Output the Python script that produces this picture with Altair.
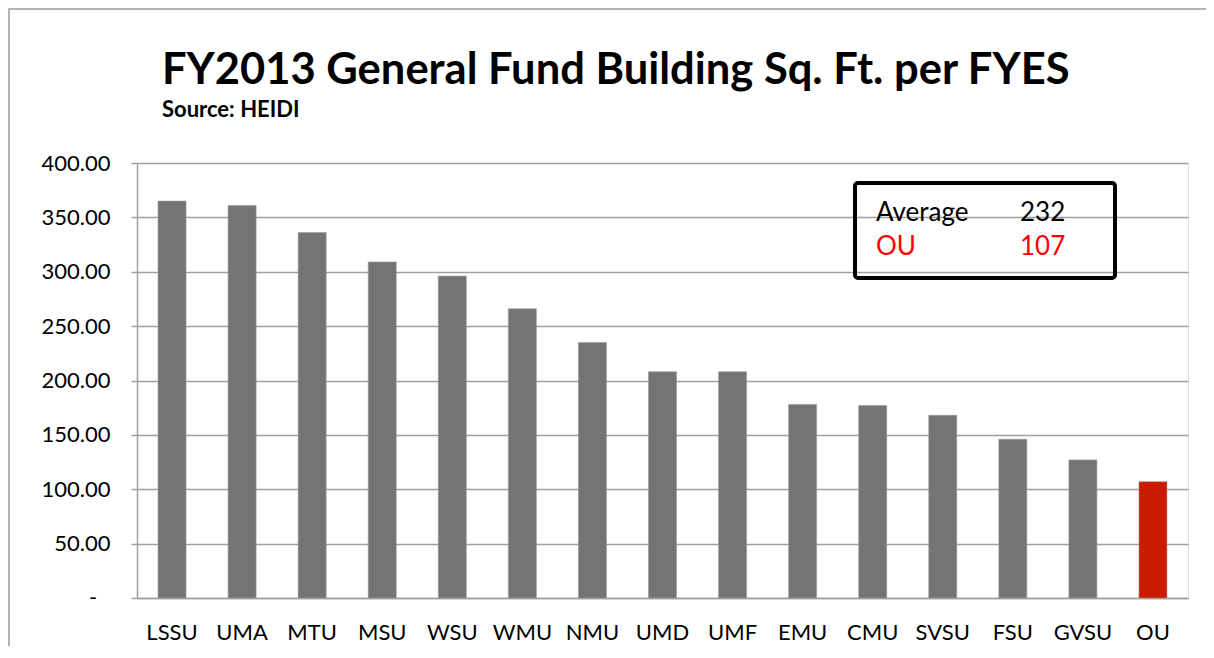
import altair as alt
import pandas as pd

schools = ["LSSU", "UMA", "MTU", "MSU", "WSU", "WMU", "NMU", "UMD", "UMF",
           "EMU", "CMU", "SVSU", "FSU", "GVSU", "OU"]
sqft_per_fyes = [365, 361, 336, 309, 296, 266, 235, 208, 208, 178, 177, 168, 146, 127, 107]
highlight = ["other"] * 14 + ["OU"]

y_ticks = [0, 50, 100, 150, 200, 250, 300, 350, 400]
zero_label = ["-"]

box_labels = ["Average", "OU"]
box_values = ["232", "107"]
box_colors = ["black", "red"]

title_text = "FY2013 General Fund Building Sq. Ft. per FYES"
subtitle_text = "Source: HEIDI"

FONT = "Lato"
W, H = 1051, 435

df = pd.DataFrame({"school": schools, "value": sqft_per_fyes, "group": highlight})

bars = alt.Chart(df).mark_bar(stroke="#9a9a9a", strokeWidth=0.6).encode(
    x=alt.X("school:N", sort=schools, title=None,
            scale=alt.Scale(paddingInner=0.6, paddingOuter=0.3),
            axis=alt.Axis(labelAngle=0, labelFontSize=22, labelFont=FONT, labelColor="black",
                          ticks=False, domainColor="#a0a0a0", domainWidth=1.5,
                          labelPadding=24, grid=False)),
    y=alt.Y("value:Q", title=None,
            scale=alt.Scale(domain=[0, 400], nice=False),
            axis=alt.Axis(values=y_ticks,
                          labelExpr="datum.value == 0 ? '' : format(datum.value, '.2f')",
                          labelFontSize=22, labelFont=FONT, labelColor="black",
                          grid=True, gridColor="#a0a0a0", gridWidth=1.5,
                          domainColor="#a0a0a0", domainWidth=1.5,
                          tickColor="#a0a0a0", tickSize=6, tickWidth=1.5, labelPadding=21)),
    color=alt.Color("group:N", scale=alt.Scale(domain=["other", "OU"], range=["#747474", "#CC1A00"]),
                    legend=None),
)

dash = alt.Chart(pd.DataFrame({"v": [0], "t": zero_label})).mark_text(
    align="center", baseline="middle", font=FONT, fontSize=22, color="black", clip=False
).encode(
    x=alt.value(-44),
    y=alt.Y("v:Q", scale=alt.Scale(domain=[0, 400], nice=False), axis=None),
    text="t:N",
)

one = pd.DataFrame({"a": [0]})

frame = alt.Chart(one).mark_rect(
    fill=None, stroke="#9a9a9a", strokeWidth=1.5, clip=False
).encode(x=alt.value(-128), x2=alt.value(W + 120), y=alt.value(-154), y2=alt.value(H + 120))

title = alt.Chart(pd.DataFrame({"t": [title_text]})).mark_text(
    align="left", baseline="alphabetic", font=FONT, fontSize=43.5, fontWeight="bold", color="black"
).encode(x=alt.value(25), y=alt.value(-79), text="t:N")

subtitle = alt.Chart(pd.DataFrame({"t": [subtitle_text]})).mark_text(
    align="left", baseline="alphabetic", font=FONT, fontSize=22, fontWeight="bold", color="black"
).encode(x=alt.value(25), y=alt.value(-46), text="t:N")

box = alt.Chart(one).mark_rect(
    fill="white", fillOpacity=0, stroke="black", strokeWidth=4, cornerRadius=3
).encode(x=alt.value(718), x2=alt.value(978), y=alt.value(20), y2=alt.value(115))

bdf = pd.DataFrame({"label": box_labels, "val": box_values, "color": box_colors, "row": [0, 1]})
row_y = alt.Y("row:Q", scale=alt.Scale(domain=[0, 1], range=[50, 84], nice=False, zero=False), axis=None)
lab = alt.Chart(bdf).mark_text(align="left", baseline="middle", fontSize=26, font=FONT).encode(
    x=alt.value(739), y=row_y, text="label:N", color=alt.Color("color:N", scale=None),
)
val = alt.Chart(bdf).mark_text(align="left", baseline="middle", fontSize=26, font=FONT).encode(
    x=alt.value(883), y=row_y, text="val:N", color=alt.Color("color:N", scale=None),
)

chart = alt.layer(frame, title, subtitle, bars, dash, box, lab, val).resolve_scale(
    y="independent", color="independent"
).properties(
    width=W, height=H,
    padding={"left": 129, "top": 155, "right": 18, "bottom": 48},
    autosize=alt.AutoSizeParams(type="none"),
).configure_view(stroke=None).configure(background="white")

chart.save("out.html", embed_options={"renderer": "svg", "actions": False})
